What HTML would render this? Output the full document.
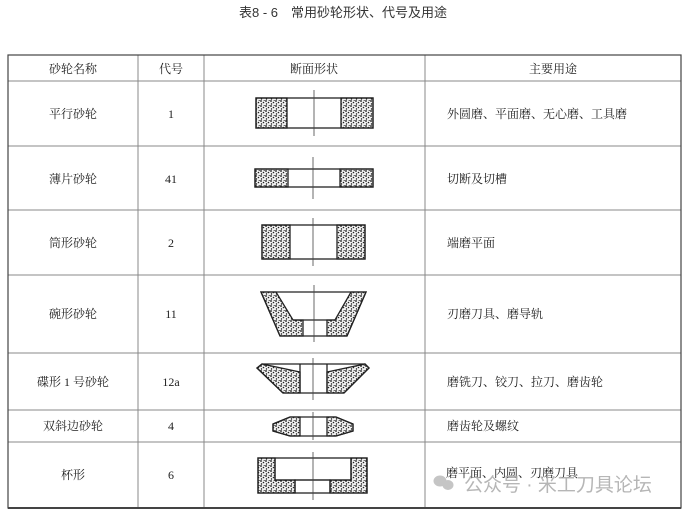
<!DOCTYPE html>
<html><head><meta charset="utf-8"><style>
html,body{margin:0;padding:0;background:#fff;}
svg{display:block;}
.s{font-family:"Liberation Serif","Noto Serif CJK SC",serif;font-size:12px;fill:#222;}
.t{font-family:"Liberation Sans","Noto Sans CJK SC",sans-serif;font-size:13px;fill:#333;}
.g{fill:url(#dots);stroke:#222;stroke-width:1.3;}
.o{fill:none;stroke:#222;stroke-width:1.3;}
.c{stroke:#444;stroke-width:0.8;}
</style></head><body>
<svg width="687" height="515" viewBox="0 0 687 515">
<defs>
<pattern id="dots" width="5" height="5" patternUnits="userSpaceOnUse">
<rect width="5" height="5" fill="#f2f2f2"/>
<circle cx="1" cy="1" r="0.9" fill="#111"/>
<circle cx="3.5" cy="2.5" r="0.8" fill="#222"/>
<circle cx="1.5" cy="4" r="0.7" fill="#111"/>
<circle cx="4.2" cy="0.4" r="0.6" fill="#333"/>
</pattern>
</defs>
<text class="t" x="343" y="17" text-anchor="middle">表8 - 6　常用砂轮形状、代号及用途</text>
<g stroke="#888" stroke-width="1">
<line x1="8" y1="81" x2="681" y2="81"/>
<line x1="8" y1="146" x2="681" y2="146"/>
<line x1="8" y1="210" x2="681" y2="210"/>
<line x1="8" y1="275" x2="681" y2="275"/>
<line x1="8" y1="353" x2="681" y2="353"/>
<line x1="8" y1="410" x2="681" y2="410"/>
<line x1="8" y1="442" x2="681" y2="442"/>
<line x1="138" y1="55" x2="138" y2="508"/>
<line x1="204" y1="55" x2="204" y2="508"/>
<line x1="425" y1="55" x2="425" y2="508"/>
</g>
<rect x="8" y="55" width="673" height="453" fill="none" stroke="#444" stroke-width="1.2"/>
<line x1="8" y1="508" x2="681" y2="508" stroke="#444" stroke-width="2"/>
<text class="s" x="73" y="73" text-anchor="middle">砂轮名称</text>
<text class="s" x="171" y="73" text-anchor="middle">代号</text>
<text class="s" x="314" y="73" text-anchor="middle">断面形状</text>
<text class="s" x="553" y="73" text-anchor="middle">主要用途</text>
<g class="s">
<text x="73" y="118" text-anchor="middle">平行砂轮</text>
<text x="171" y="118" text-anchor="middle">1</text>
<text x="447" y="118">外圆磨、平面磨、无心磨、工具磨</text>
<text x="73" y="183" text-anchor="middle">薄片砂轮</text>
<text x="171" y="183" text-anchor="middle">41</text>
<text x="447" y="183">切断及切槽</text>
<text x="73" y="247" text-anchor="middle">筒形砂轮</text>
<text x="171" y="247" text-anchor="middle">2</text>
<text x="447" y="247">端磨平面</text>
<text x="73" y="318" text-anchor="middle">碗形砂轮</text>
<text x="171" y="318" text-anchor="middle">11</text>
<text x="447" y="318">刃磨刀具、磨导轨</text>
<text x="73" y="386" text-anchor="middle">碟形 1 号砂轮</text>
<text x="171" y="386" text-anchor="middle">12a</text>
<text x="447" y="386">磨铣刀、铰刀、拉刀、磨齿轮</text>
<text x="73" y="430" text-anchor="middle">双斜边砂轮</text>
<text x="171" y="430" text-anchor="middle">4</text>
<text x="447" y="430">磨齿轮及螺纹</text>
<text x="73" y="479" text-anchor="middle">杯形</text>
<text x="171" y="479" text-anchor="middle">6</text>
<text x="446" y="477">磨平面、内圆、刃磨刀具</text>
</g>
<rect class="g" x="256" y="98" width="31" height="30"/>
<rect class="g" x="341" y="98" width="32" height="30"/>
<rect class="o" x="256" y="98" width="117" height="30"/>
<line class="c" x1="314" y1="90" x2="314" y2="136"/>
<rect class="g" x="255" y="169" width="33" height="18"/>
<rect class="g" x="340" y="169" width="33" height="18"/>
<rect class="o" x="255" y="169" width="118" height="18"/>
<line class="c" x1="313" y1="157" x2="313" y2="199"/>
<rect class="g" x="262" y="225" width="28" height="34"/>
<rect class="g" x="337" y="225" width="28" height="34"/>
<rect class="o" x="262" y="225" width="103" height="34"/>
<line class="c" x1="313" y1="218" x2="313" y2="266"/>
<polygon class="g" points="261,292 276,292 293,320 303,320 303,336 280,336"/>
<polygon class="g" points="366,292 351,292 335,320 327,320 327,336 347,336"/>
<polygon class="o" points="261,292 366,292 347,336 280,336"/>
<line class="o" x1="293" y1="320" x2="335" y2="320"/>
<line class="c" x1="314" y1="285" x2="314" y2="342"/>
<polygon class="g" points="257,368 262,364 300,372 300,393 283,393"/>
<polygon class="g" points="369,368 365,364 327,372 327,393 344,393"/>
<polygon class="o" points="257,368 262,364 365,364 369,368 344,393 283,393"/>
<line class="o" x1="300" y1="364" x2="300" y2="393"/>
<line class="o" x1="327" y1="364" x2="327" y2="393"/>
<line class="c" x1="313" y1="358" x2="313" y2="400"/>
<polygon class="g" points="273,424 290,417 300,417 300,436 290,436 273,431"/>
<polygon class="g" points="353,424 336,417 327,417 327,436 336,436 353,431"/>
<polygon class="o" points="273,424 290,417 336,417 353,424 353,431 336,436 290,436 273,431"/>
<line class="c" x1="313" y1="412" x2="313" y2="440"/>
<polygon class="g" points="258,458 275,458 275,480 295,480 295,493 258,493"/>
<polygon class="g" points="367,458 351,458 351,480 330,480 330,493 367,493"/>
<rect class="o" x="258" y="458" width="109" height="35"/>
<polyline class="o" points="275,458 275,480 351,480 351,458"/>
<polyline class="o" points="295,493 295,480 330,480 330,493"/>
<line class="c" x1="313" y1="452" x2="313" y2="500"/>
<g fill="#bbb" opacity="0.85">
<ellipse cx="440" cy="481" rx="6.5" ry="5.5"/>
<ellipse cx="448" cy="485" rx="5.5" ry="5"/>
</g>
<text x="464" y="491" font-family="Liberation Sans,'Noto Sans CJK SC',sans-serif" font-size="19" fill="#aaa" opacity="0.85">公众号 · 米工刀具论坛</text>
</svg>
</body></html>
